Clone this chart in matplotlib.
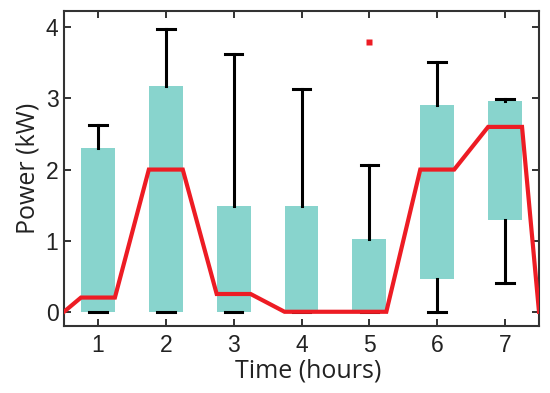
import matplotlib
matplotlib.use('Agg')
import matplotlib.pyplot as plt

# box statistics (kW)
hours = [1, 2, 3, 4, 5, 6, 7]
q1 = [0, 0, 0, 0, 0, 0.46, 1.29]
q3 = [2.31, 3.18, 1.49, 1.49, 1.03, 2.91, 2.96]
medians = [0.2, 2.0, 0.25, 0, 0, 2.0, 2.6]
whislo = [0, 0, 0, 0, 0, 0, 0.41]
whishi = [2.63, 3.98, 3.62, 3.13, 2.07, 3.51, 2.99]
outliers = [[], [], [], [], [3.79], [], []]

box_color = '#88d4cd'
red = '#ed1c24'
width = 0.5

plt.rcParams['font.family'] = ['Liberation Sans', 'DejaVu Sans']

stats = []
for i in range(len(hours)):
    stats.append({'q1': q1[i], 'q3': q3[i], 'med': medians[i],
                  'whislo': whislo[i], 'whishi': whishi[i], 'fliers': outliers[i]})

fig = plt.figure(figsize=(5.5, 3.93), dpi=100)
ax = fig.add_axes([0.1164, 0.1705, 0.8636, 0.8015])

ax.bxp(stats, positions=hours, widths=width, patch_artist=True, showfliers=True,
       boxprops=dict(facecolor=box_color, edgecolor='none', linewidth=0),
       whiskerprops=dict(color='black', linewidth=2.2),
       capprops=dict(color='black', linewidth=2.2),
       capwidths=0.26,
       medianprops=dict(linewidth=0),
       flierprops=dict(marker='s', markersize=4.5, markerfacecolor=red,
                       markeredgecolor='none'),
       zorder=2)

# median line joining box edges
xs = [0.5]
ys = [0]
for h, m in zip(hours, medians):
    xs += [h - width / 2, h + width / 2]
    ys += [m, m]
xs.append(7.5)
ys.append(0)
ax.plot(xs, ys, color=red, linewidth=3, zorder=3, solid_joinstyle='miter')

ax.set_xlim(0.5, 7.5)
ax.set_ylim(-0.2, 4.23)
ax.set_xticks(hours)
ax.set_yticks([0, 1, 2, 3, 4])

ax.tick_params(direction='in', length=5, width=1.3, top=True, right=True,
               colors='#222222', labelcolor='#222222', labelsize=16.5)
ax.tick_params(axis='y', pad=4)
ax.tick_params(axis='x', pad=6)
for s in ax.spines.values():
    s.set_linewidth(1.5)
    s.set_color('#333333')

ax.set_xlabel('Time (hours)', fontsize=18, family='Open Sans', color='#222222', labelpad=1)
ax.xaxis.label.set_x(0.515)
ax.set_ylabel('Power (kW)', fontsize=18, family='Open Sans', color='#222222', labelpad=4)

fig.savefig('out.png', dpi=100)
